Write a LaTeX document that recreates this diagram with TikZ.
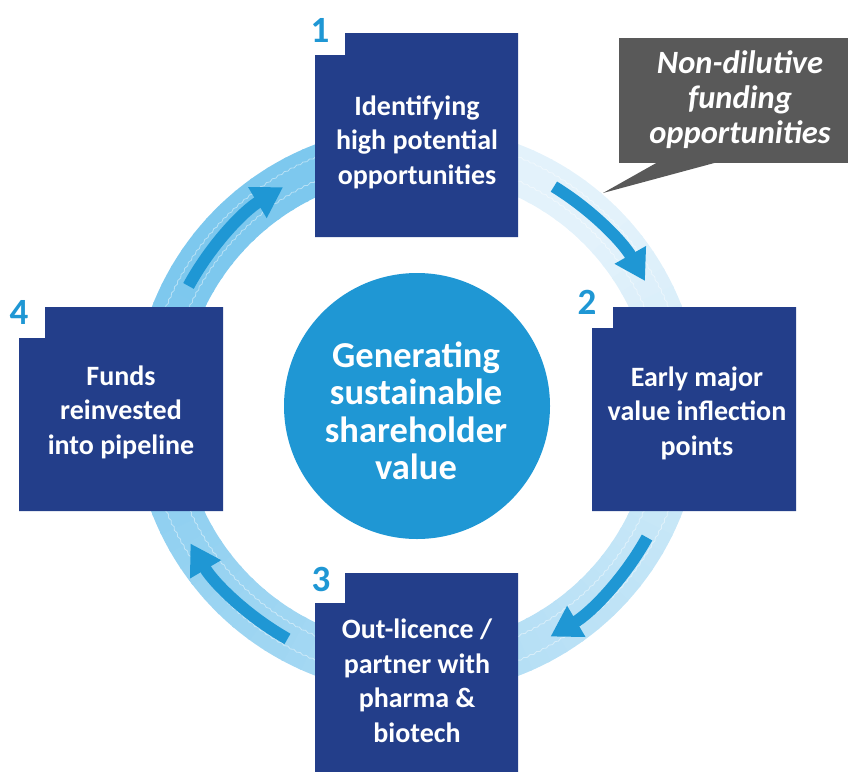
\documentclass[tikz,border=0pt]{standalone}
\usepackage{fontspec}
\setmainfont{Carlito}
\usetikzlibrary{arrows.meta,decorations.pathmorphing}
\definecolor{boxc}{RGB}{35,62,138}
\definecolor{bluec}{RGB}{31,151,212}
\definecolor{ringlight}{RGB}{227,242,251}
\definecolor{ringdark}{RGB}{125,200,238}
\definecolor{calloutc}{RGB}{89,89,89}
\begin{document}
\begin{tikzpicture}[x=1pt,y=-1pt,
  boxtext/.style={text=white,font=\fontsize{28}{34.5}\selectfont\bfseries,align=center,inner sep=0},
  numtext/.style={text=bluec,font=\fontsize{37}{37}\selectfont\bfseries,inner sep=0},
  flowarrow/.style={draw=bluec,line width=12,-{Triangle[width=34,length=30]}},
  ringtex/.style={white,opacity=0.45,line width=0.8,decorate,decoration={snake,amplitude=0.7,segment length=7}},
]
\useasboundingbox (0,0) rectangle (848,771);
% ring
\begin{scope}[shift={(417,410)},yscale=-1]
  \foreach \k in {0,...,89}{
    \pgfmathsetmacro{\aa}{90-4*\k}
    \pgfmathsetmacro{\ab}{90-4*\k-4.6}
    \pgfmathtruncatemacro{\p}{max(0,min(100,(4*\k+2-45)/2.5))}
    \draw[line width=49,color=ringdark!\p!ringlight] (\aa:260) arc[start angle=\aa,end angle=\ab,radius=260];
  }
  \draw[ringtex] (0,0) circle[radius=249];
  \draw[ringtex] (0,0) circle[radius=271];
  % arrows
  \draw[flowarrow] (58.5:262) arc[start angle=58.5,end angle=29.5,radius=262];
  \draw[flowarrow] (-29:263) arc[start angle=-29,end angle=-59.5,radius=263];
  \draw[flowarrow] (240.5:263) arc[start angle=240.5,end angle=210.5,radius=263];
  \draw[flowarrow] (151.5:260) arc[start angle=151.5,end angle=121,radius=260];
\end{scope}
% centre
\fill[bluec] (417,406) circle[radius=133];
\node[text=white,font=\fontsize{36.5}{37.5}\selectfont\bfseries,align=center] (c) at (416,411) {Generating\\sustainable\\shareholder\\value};
% boxes
\fill[boxc] (345,33) -- (518,33) -- (518,237) -- (315,237) -- (315,55) -- (345,55) -- cycle;
\fill[boxc] (613,307) -- (796,307) -- (796,511) -- (592,511) -- (592,328) -- (613,328) -- cycle;
\fill[boxc] (345,573) -- (518,573) -- (518,780) -- (315,780) -- (315,603) -- (345,603) -- cycle;
\fill[boxc] (45,307) -- (223,307) -- (223,511) -- (19,511) -- (19,338) -- (45,338) -- cycle;
\node[boxtext] (b1) at (417,142) {Identifying\\high potential\\opportunities};
\node[boxtext] (b2) at (697,413) {Early major\\value inflection\\points};
\node[boxtext] (b3) at (417,681) {Out-licence /\\partner with\\pharma \&\\biotech};
\node[boxtext] (b4) at (121,412) {Funds\\reinvested\\into pipeline};
\node[numtext] (n1) at (320,30) {1};
\node[numtext] (n2) at (587,302) {2};
\node[numtext] (n3) at (321,579) {3};
\node[numtext] (n4) at (19,312) {4};
% callout
\fill[calloutc] (619,38) rectangle (848,163);
\fill[calloutc] (658,162) -- (603,193) -- (718,162) -- cycle;
\node[text=white,font=\fontsize{32.5}{35}\selectfont\bfseries\itshape,align=center] (call) at (740,100) {Non-dilutive\\funding\\opportunities};
\end{tikzpicture}
\end{document}
